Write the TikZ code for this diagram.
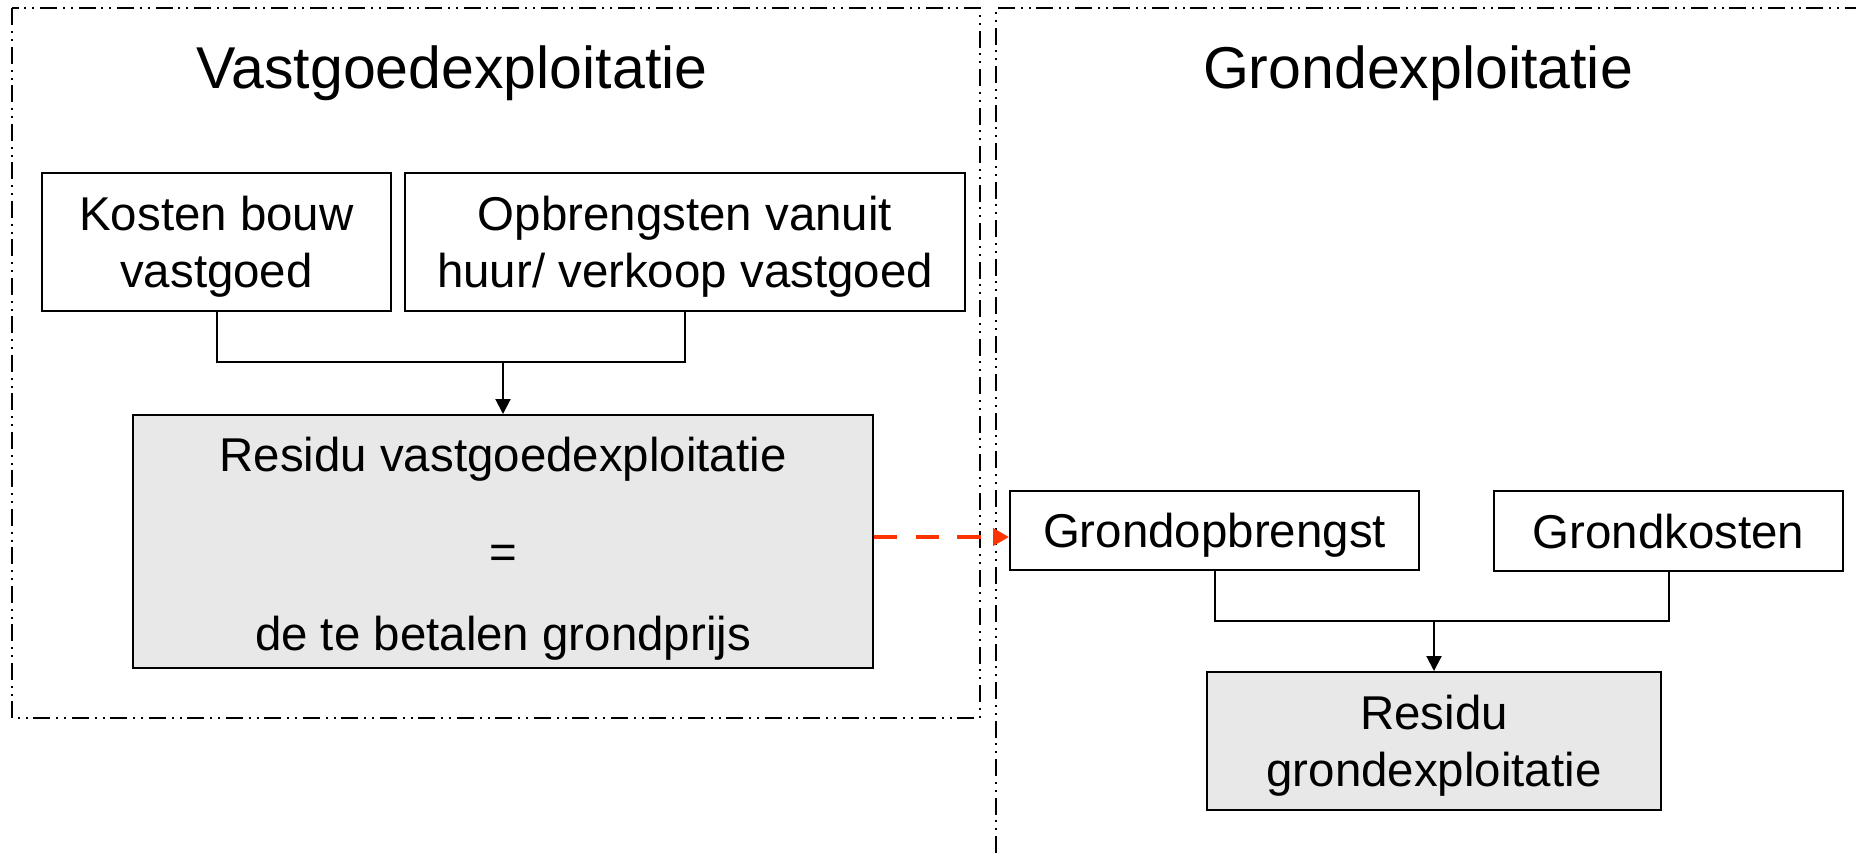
\documentclass[tikz,border=0pt]{standalone}
\usepackage{fontspec}
\setmainfont{Liberation Sans}
\usetikzlibrary{arrows.meta}
\definecolor{boxgray}{RGB}{232,232,232}
\definecolor{linkred}{RGB}{255,51,0}

\begin{document}
\begin{tikzpicture}[
    frame/.style={line width=0.02cm,dash pattern=on 0.17cm off 0.06cm on 0.02cm off 0.06cm on 0.02cm off 0.055cm},
    title/.style={font=\fontsize{16.8pt}{20pt}\selectfont,anchor=base},
    item/.style={draw,line width=0.02cm,inner sep=0pt,align=center,font=\fontsize{13.5pt}{16.3pt}\selectfont,text depth=0pt},
    oneline/.style={text height=0.34cm},
    twolines/.style={text height=0.91cm},
    result/.style={item,fill=boxgray},
    wire/.style={line width=0.02cm},
    arrow/.style={wire,-{Triangle[length=0.15cm,width=0.15cm]}},
    link/.style={-{Triangle[length=0.16cm,width=0.17cm]},linkred,line width=0.04cm,dash pattern=on 0.233cm off 0.183cm}
]
    \useasboundingbox (0,0) rectangle (18.56,-8.53);
    % Frames
    \draw[frame] (0.12,-0.08) rectangle (9.80,-7.18);
    \draw[frame] (9.96,-8.53) -- (9.96,-0.08) -- (18.56,-0.08);
    % Titles
    \node[title] (vgtitle) at (4.52,-0.88) {Vastgoedexploitatie};
    \node[title] (grtitle) at (14.18,-0.88) {Grondexploitatie};
    % Left: vastgoed
    \node[item,twolines,minimum width=3.49cm,minimum height=1.38cm] (kosten) at (2.165,-2.42) {Kosten bouw\\vastgoed};
    \node[item,twolines,minimum width=5.60cm,minimum height=1.38cm] (opbr) at (6.85,-2.42) {Opbrengsten vanuit\\huur/ verkoop vastgoed};
    \node[result,text height=2.18cm,minimum width=7.40cm,minimum height=2.53cm,font=\fontsize{13.5pt}{24.7pt}\selectfont] (resvg) at (5.03,-5.415) {Residu vastgoedexploitatie\\[2.7pt]=\\[-1.3pt]de te betalen grondprijs};
    % Right: grond
    \node[item,oneline,minimum width=4.09cm,minimum height=0.79cm] (gopb) at (12.145,-5.305) {Grondopbrengst};
    \node[item,oneline,minimum width=3.49cm,minimum height=0.80cm] (gkost) at (16.685,-5.31) {Grondkosten};
    \node[result,twolines,minimum width=4.54cm,minimum height=1.38cm] (resgr) at (14.34,-7.41) {Residu\\grondexploitatie};
    % Connectors
    \coordinate (vjoin) at (5.03,-3.62);
    \draw[wire] (kosten.south) |- (vjoin) -| (opbr.south);
    \draw[arrow] (vjoin) -- (resvg.north);
    \coordinate (gjoin) at (14.34,-6.21);
    \draw[wire] (gopb.south) |- (gjoin) -| (gkost.south);
    \draw[arrow] (gjoin) -- (resgr.north);
    % Link
    \coordinate (linky) at (9.9,-5.37);
    \draw[link] (resvg.east |- linky) -- (gopb.west |- linky);
\end{tikzpicture}
\end{document}
